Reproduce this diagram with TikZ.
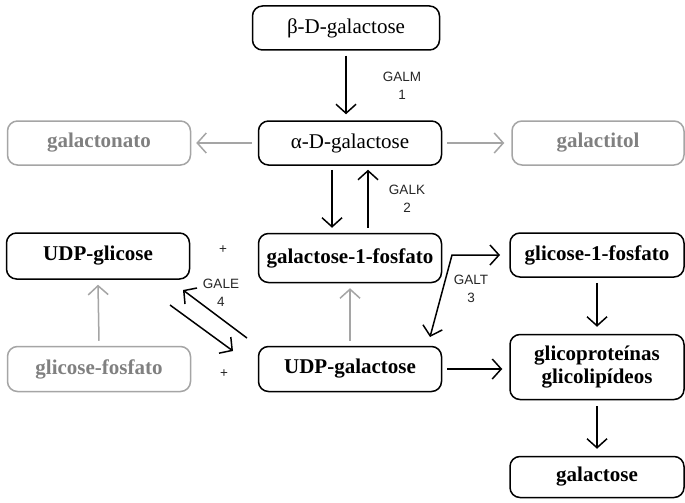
\documentclass[tikz,border=0pt]{standalone}
\usepackage{fontspec}
\setmainfont{Liberation Serif}
\newfontfamily\labfont{Liberation Sans}
\usetikzlibrary{arrows.meta}
\definecolor{lgray}{RGB}{165,165,165}
\definecolor{tgray}{RGB}{128,128,128}
\begin{document}
\begin{tikzpicture}[x=1pt,y=-1pt,
  box/.style={draw=black, line width=1.5pt, rounded corners=10pt,
    minimum width=#1, minimum height=44pt, inner sep=0pt, align=center,
    font=\fontsize{21}{23}\selectfont\bfseries},
  box/.default=183pt,
  gbox/.style={box=#1, draw=lgray, text=tgray},
  gbox/.default=183pt,
  plain/.style={font=\fontsize{21}{23}\selectfont},
  lab/.style={font=\labfont\fontsize{13.5}{18}\selectfont, align=center, text=black!85},
  arr/.style={draw=black, line width=1.5pt, -{Straight Barb[length=9pt,width=20pt,line width=1.5pt]}},
  garr/.style={arr, draw=lgray},
  darr/.style={draw=black, line width=1.5pt, {Straight Barb[length=9pt,width=20pt,line width=1.5pt]}-{Straight Barb[length=9pt,width=20pt,line width=1.5pt]}}
]
\fill[white] (0,0) rectangle (685,503);
\path[use as bounding box] (0,0) rectangle (685,503);

\node[box=187pt, plain] (beta) at (346,28) {β-D-galactose};
\node[box, plain] (alpha) at (350,143) {α-D-galactose};
\node[gbox] (gnato) at (99,143) {galactonato};
\node[gbox=172pt] (gtitol) at (598,143) {galactitol};
\node[box, minimum height=46pt] (udpglc) at (98,256) {UDP-glicose};
\node[box, minimum height=49pt] (gal1p) at (350,258) {galactose-1-fosfato};
\node[box=174pt] (glc1p) at (597,255) {glicose-1-fosfato};
\node[gbox, minimum height=45pt] (glcp) at (99,369) {glicose-fosfato};
\node[box, minimum height=45pt] (udpgal) at (350,369) {UDP-galactose};
\node[box=174pt, minimum height=65pt] (glico) at (597,367) {glicoproteínas\\glicolipídeos};
\node[box=174pt, minimum height=41pt] (galac) at (597,477) {galactose};

% labels
\node[lab] (galm) at (402,86) {GALM\\1};
\node[lab] (galk) at (407,199) {GALK\\2};
\node[lab] (gale) at (221,293) {GALE\\4};
\node[lab] (galt) at (471,289) {GALT\\3};
\node[lab] (plus1) at (223,250) {+};
\node[lab] (plus2) at (224,374) {+};

% arrows
\draw[arr] ([yshift=-5pt]beta.south) -- ([yshift=6pt]beta.south |- alpha.north);
\draw[garr] ([xshift=-6pt]alpha.west) -- ([xshift=5pt]gnato.east);
\draw[garr] ([xshift=5pt]alpha.east) -- ([xshift=-7pt]gtitol.west);
\draw[arr] ([xshift=-18pt,yshift=-4pt]alpha.south) -- ([xshift=-18pt,yshift=5pt]gal1p.north);
\draw[arr] ([xshift=18pt,yshift=5pt]gal1p.north) -- ([xshift=18pt,yshift=-4pt]alpha.south);
\draw[garr] ([yshift=5pt]glcp.north) -- ([yshift=-5pt]udpglc.south);
\draw[garr] ([yshift=5pt]udpgal.north) -- ([yshift=-5pt]gal1p.south);
\draw[arr] ([xshift=5pt]udpgal.east) -- ([xshift=-7pt]udpgal.east -| glico.west);
\draw[arr] ([yshift=-5pt]glc1p.south) -- ([yshift=7pt]glico.north);
\draw[arr] ([yshift=-6pt]glico.south) -- ([yshift=7pt]galac.north);

% GALE arrows
\coordinate (e1s) at (247,338);
\coordinate (e1t) at (183,290);
\coordinate (e2s) at (170,305);
\coordinate (e2t) at (233,351);
\draw[arr] (e1s) -- (e1t);
\draw[arr] (e2s) -- (e2t);

% GALT arrow
\coordinate (t1) at (430,337);
\coordinate (t2) at (452,255);
\coordinate (t3) at (500,255);
\draw[darr] (t1) -- (t2) -- (t3);
\end{tikzpicture}
\end{document}
